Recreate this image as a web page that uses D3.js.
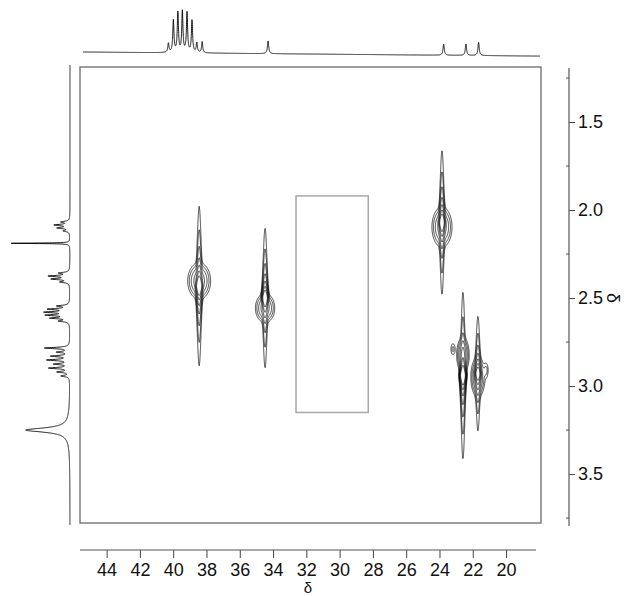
<!DOCTYPE html>
<html><head><meta charset="utf-8">
<script src="https://cdn.jsdelivr.net/npm/d3@7"></script>
<style>body{margin:0;background:#fff} svg{display:block} text{font-family:"Liberation Sans",Arial,Helvetica,sans-serif;fill:#111}</style>
</head><body><svg id="c" width="627" height="596"></svg>
<script>
// ---------- data ----------
const xTicks = [44, 42, 40, 38, 36, 34, 32, 30, 28, 26, 24, 22, 20];
const yTicks = [1.5, 2.0, 2.5, 3.0, 3.5];
const yMinorTicks = [1.25, 1.75, 2.25, 2.75, 3.25, 3.75];

// 13C projection (top): shift ppm, relative height, half-width ppm
const carbonShift  = [40.29, 39.99, 39.72, 39.45, 39.17, 38.87, 38.58, 38.26, 34.30, 23.75, 22.41, 21.65];
const carbonHeight = [0.22, 0.78, 0.97, 1.00, 0.97, 0.78, 0.24, 0.27, 0.31, 0.27, 0.28, 0.32];
const carbonWidth  = [0.042, 0.042, 0.042, 0.042, 0.042, 0.042, 0.042, 0.042, 0.045, 0.045, 0.045, 0.045];
const carbonBaseline = [0, -0.1];   // intensity at left / right end

// 1H projection (left)
const protonShift  = [2.068, 2.085, 2.102, 2.119, 2.189,
                      2.358, 2.375, 2.392, 2.409,
                      2.545, 2.563, 2.580, 2.597, 2.614, 2.631,
                      2.784, 2.807, 2.830, 2.852, 2.875, 2.898, 2.920, 2.943,
                      3.25, 3.25];
const protonHeight = [0.14, 0.25, 0.20, 0.10, 1.00,
                      0.17, 0.34, 0.29, 0.15,
                      0.20, 0.34, 0.39, 0.37, 0.30, 0.17,
                      0.42, 0.20, 0.30, 0.37, 0.25, 0.34, 0.20, 0.14,
                      0.70, 0.05];
const protonWidth  = [0.0045, 0.0045, 0.0045, 0.0045, 0.0017,
                      0.0045, 0.0045, 0.0045, 0.0045,
                      0.0045, 0.0045, 0.0045, 0.0045, 0.0045, 0.0045,
                      0.0045, 0.0045, 0.0045, 0.0045, 0.0045, 0.0045, 0.0045, 0.0045,
                      0.014, 0.06];

// HSQC cross peaks: narrow spindle components (Gaussian 13C x Lorentzian 1H)
const spindleC   = [38.44, 34.48, 23.85, 22.59, 21.69];
const spindleH   = [2.432, 2.500, 2.071, 2.940, 2.929];
const spindleAmp = [1.00, 0.77, 0.82, 1.10, 0.52];
const spindleWC  = [0.078, 0.075, 0.072, 0.072, 0.072];
const spindleWH  = [0.0227, 0.0227, 0.0227, 0.0227, 0.0227];

// HSQC cross peaks: central bulge components (Gaussian x Gaussian)
const bulgeC   = [38.44, 34.48, 23.85, 22.59, 21.69, 23.19, 21.20];
const bulgeH   = [2.403, 2.557, 2.097, 2.824, 2.949, 2.790, 2.910];
const bulgeAmp = [0.035, 0.030, 0.030, 0.030, 0.030, 0.006, 0.006];
const bulgeWC  = [0.30, 0.26, 0.27, 0.168, 0.19, 0.09, 0.09];
const bulgeWH  = [0.045, 0.037, 0.051, 0.045, 0.051, 0.023, 0.028];

const contourLevels = [0.0025, 0.005, 0.01, 0.02, 0.04, 0.08, 0.16];

// highlighted region box
const boxC = [32.62, 28.28];
const boxH = [1.92, 3.15];

// ---------- drawing ----------
const svg = d3.select("#c");
const x = d3.scaleLinear().domain([45.6, 17.9]).range([80, 541]);
const y = d3.scaleLinear().domain([1.1875, 3.778]).range([67, 523]);

// frame
svg.append("rect").attr("x", x(45.6)).attr("y", y(1.1875))
  .attr("width", x(17.9) - x(45.6)).attr("height", y(3.778) - y(1.1875))
  .attr("fill", "none").attr("stroke", "#6a6a6a").attr("stroke-width", 1.3);

// box
svg.append("rect").attr("x", x(boxC[0])).attr("y", y(boxH[0]))
  .attr("width", x(boxC[1]) - x(boxC[0])).attr("height", y(boxH[1]) - y(boxH[0]))
  .attr("fill", "none").attr("stroke", "#a8a8a8").attr("stroke-width", 1.5);

// contour grid
const res = 0.5, X0 = 80, Y0 = 67;
const nx = Math.ceil(461 / res), ny = Math.ceil(456 / res);
const grid = new Float64Array(nx * ny);
const colC = new Float64Array(nx), rowH = new Float64Array(ny);
for (let i = 0; i < nx; i++) colC[i] = x.invert(X0 + (i + 0.5) * res);
for (let j = 0; j < ny; j++) rowH[j] = y.invert(Y0 + (j + 0.5) * res);

spindleC.forEach((c0, k) => {
  const h0 = spindleH[k], A = spindleAmp[k], sx = spindleWC[k], gy = spindleWH[k];
  for (let i = 0; i < nx; i++) {
    const u = (colC[i] - c0) / sx;
    if (Math.abs(u) > 8) continue;
    const gx = A * Math.exp(-0.5 * u * u);
    for (let j = 0; j < ny; j++) {
      const v = (rowH[j] - h0) / gy;
      grid[j * nx + i] += gx / (1 + v * v);
    }
  }
});
bulgeC.forEach((c0, k) => {
  const h0 = bulgeH[k], A = bulgeAmp[k], sx = bulgeWC[k], sy = bulgeWH[k];
  for (let i = 0; i < nx; i++) {
    const u = (colC[i] - c0) / sx;
    if (Math.abs(u) > 6) continue;
    for (let j = 0; j < ny; j++) {
      const v = (rowH[j] - h0) / sy;
      if (Math.abs(v) > 6) continue;
      grid[j * nx + i] += A * Math.exp(-0.5 * (u * u + v * v));
    }
  }
});
const contours = d3.contours().size([nx, ny]).thresholds(contourLevels)(grid);
const cpath = d3.geoPath(d3.geoIdentity().scale(res).translate([X0, Y0]));
svg.append("g").selectAll("path").data(contours).join("path")
  .attr("d", cpath).attr("fill", "none").attr("stroke", "#000").attr("stroke-width", 0.75);

// top 13C projection
const cStart = x.invert(83), cEnd = x.invert(540);
const cSamples = d3.range(cStart, cEnd, -0.004);
const topY = d3.scaleLinear().domain([0, 1]).range([52, 11]);
const carbonI = c => {
  let s = carbonBaseline[0] + (carbonBaseline[1] - carbonBaseline[0]) * (c - cStart) / (cEnd - cStart);
  carbonShift.forEach((p, k) => { const d = (c - p) / carbonWidth[k]; s += carbonHeight[k] / (1 + d * d); });
  return s;
};
svg.append("path").datum(cSamples)
  .attr("d", d3.line().x(c => x(c)).y(c => topY(carbonI(c))))
  .attr("fill", "none").attr("stroke", "#000").attr("stroke-width", 0.9);

// left 1H projection
const hStart = y.invert(65), hEnd = y.invert(525);
const hSamples = d3.range(hStart, hEnd, 0.0005);
const leftX = d3.scaleLinear().domain([0, 1]).range([70, 11]);
const protonI = h => {
  let s = 0;
  protonShift.forEach((p, k) => { const d = (h - p) / protonWidth[k]; s += protonHeight[k] / (1 + d * d); });
  return s;
};
svg.append("path").datum(hSamples)
  .attr("d", d3.line().x(h => leftX(protonI(h))).y(h => y(h)))
  .attr("fill", "none").attr("stroke", "#000").attr("stroke-width", 0.9);

// bottom axis
const gx = svg.append("g").attr("transform", "translate(0,550)")
  .call(d3.axisBottom(x).tickValues(xTicks).tickSize(8).tickPadding(5).tickSizeOuter(0));
gx.select(".domain").remove();
gx.selectAll(".tick line").attr("stroke", "#444");
gx.selectAll("text").attr("font-size", 18).attr("fill", "#111");
svg.append("line").attr("x1", x(45.6)).attr("x2", x(18.2)).attr("y1", 550).attr("y2", 550)
  .attr("stroke", "#555").attr("stroke-width", 1.2);
svg.append("text").attr("x", x(31.9)).attr("y", 593).attr("text-anchor", "middle")
  .attr("font-size", 15).text("δ");

// right axis
const gy = svg.append("g").attr("transform", "translate(569,0)")
  .call(d3.axisRight(y).tickValues(yTicks).tickSize(6).tickPadding(3).tickFormat(d3.format(".1f")).tickSizeOuter(0));
gy.select(".domain").remove();
gy.selectAll(".tick line").attr("stroke", "#444");
gy.selectAll("text").attr("font-size", 18).attr("fill", "#111");
svg.append("line").attr("x1", 569).attr("x2", 569).attr("y1", y(1.193)).attr("y2", y(3.795))
  .attr("stroke", "#555").attr("stroke-width", 1.2);
svg.append("g").selectAll("line").data(yMinorTicks).join("line")
  .attr("x1", 566).attr("x2", 569).attr("y1", d => y(d)).attr("y2", d => y(d))
  .attr("stroke", "#555");
svg.append("text").attr("transform", `translate(607,${y(2.5)}) rotate(90)`)
  .attr("text-anchor", "middle").attr("font-size", 18).text("δ");
</script></body></html>
